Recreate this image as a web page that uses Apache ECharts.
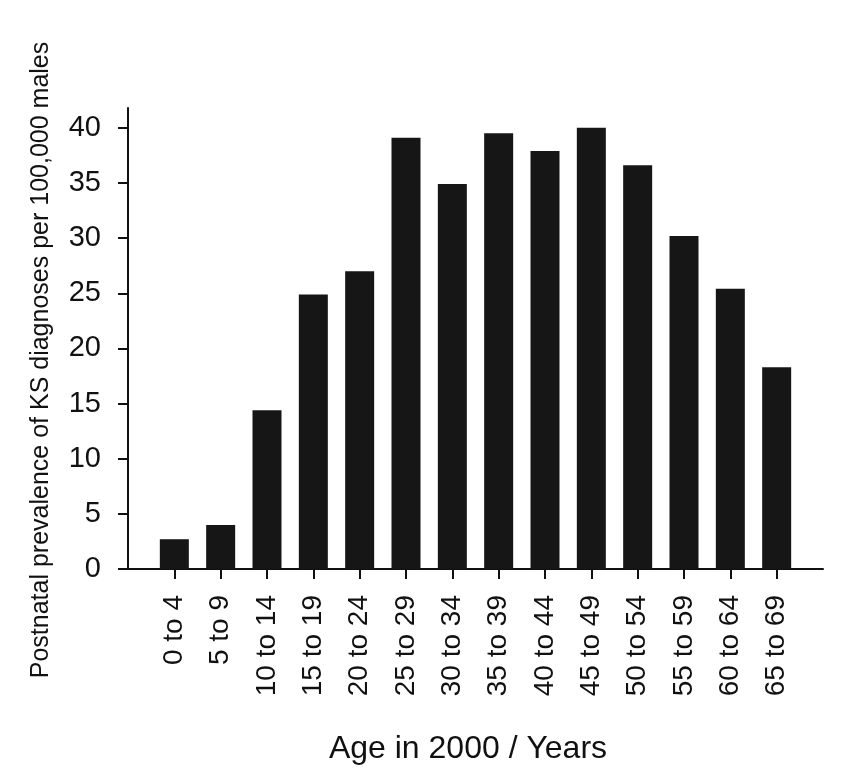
<!DOCTYPE html>
<html>
<head>
<meta charset="utf-8">
<script src="https://cdn.jsdelivr.net/npm/echarts@6/dist/echarts.min.js"></script>
<style>
  html, body { margin: 0; padding: 0; background: #fff; }
  #chart { width: 849px; height: 781px; }
</style>
</head>
<body>
<div id="chart"></div>
<script>
// age groups (in 2000)
const ageGroups = ['0 to 4', '5 to 9', '10 to 14', '15 to 19', '20 to 24', '25 to 29', '30 to 34',
  '35 to 39', '40 to 44', '45 to 49', '50 to 54', '55 to 59', '60 to 64', '65 to 69'];
// prevalence per 100,000 males
const prevalence = [2.7, 4.0, 14.4, 24.9, 27.0, 39.1, 34.9, 39.5, 37.9, 40.0, 36.6, 30.2, 25.4, 18.3];
const yTicks = [0, 5, 10, 15, 20, 25, 30, 35, 40];

const font = "'Liberation Sans', Arial, sans-serif";
const ink = '#111';

const chart = echarts.init(document.getElementById('chart'));

const xIdx = ageGroups.map((_, i) => i);

chart.setOption({
  backgroundColor: '#fff',
  animation: false,
  grid: { left: 128, right: 26, top: 108, bottom: 212 },
  xAxis: {
    type: 'value',
    min: -1,
    max: 14,
    name: 'Age in 2000 / Years',
    nameLocation: 'middle',
    nameGap: 164,
    nameTextStyle: { fontFamily: font, fontSize: 32, color: ink, padding: [0, 15, 0, 0] },
    splitLine: { show: false },
    axisLine: { onZero: false, lineStyle: { color: ink, width: 2 } },
    axisTick: { customValues: xIdx, length: 10, lineStyle: { color: ink, width: 2 } },
    axisLabel: {
      customValues: xIdx,
      rotate: 90,
      margin: 26,
      fontFamily: font,
      fontSize: 28,
      color: ink,
      formatter: v => ageGroups[v]
    }
  },
  yAxis: {
    type: 'value',
    min: 0,
    max: 41.8,
    interval: 5,
    name: 'Postnatal prevalence of KS diagnoses per 100,000 males',
    nameLocation: 'middle',
    nameRotate: 90,
    nameGap: 74,
    nameTextStyle: { fontFamily: font, fontSize: 25, color: ink, padding: [0, 43, 0, 0] },
    splitLine: { show: false },
    axisLine: { show: true, onZero: false, lineStyle: { color: ink, width: 2 } },
    axisTick: { show: true, customValues: yTicks, length: 10, lineStyle: { color: ink, width: 2 } },
    axisLabel: {
      customValues: yTicks,
      margin: 27,
      fontFamily: font,
      fontSize: 29,
      color: ink
    }
  },
  series: [{
    type: 'bar',
    barWidth: 29,
    itemStyle: { color: '#161616' },
    data: prevalence.map((v, i) => [i, v])
  }]
});
</script>
</body>
</html>
